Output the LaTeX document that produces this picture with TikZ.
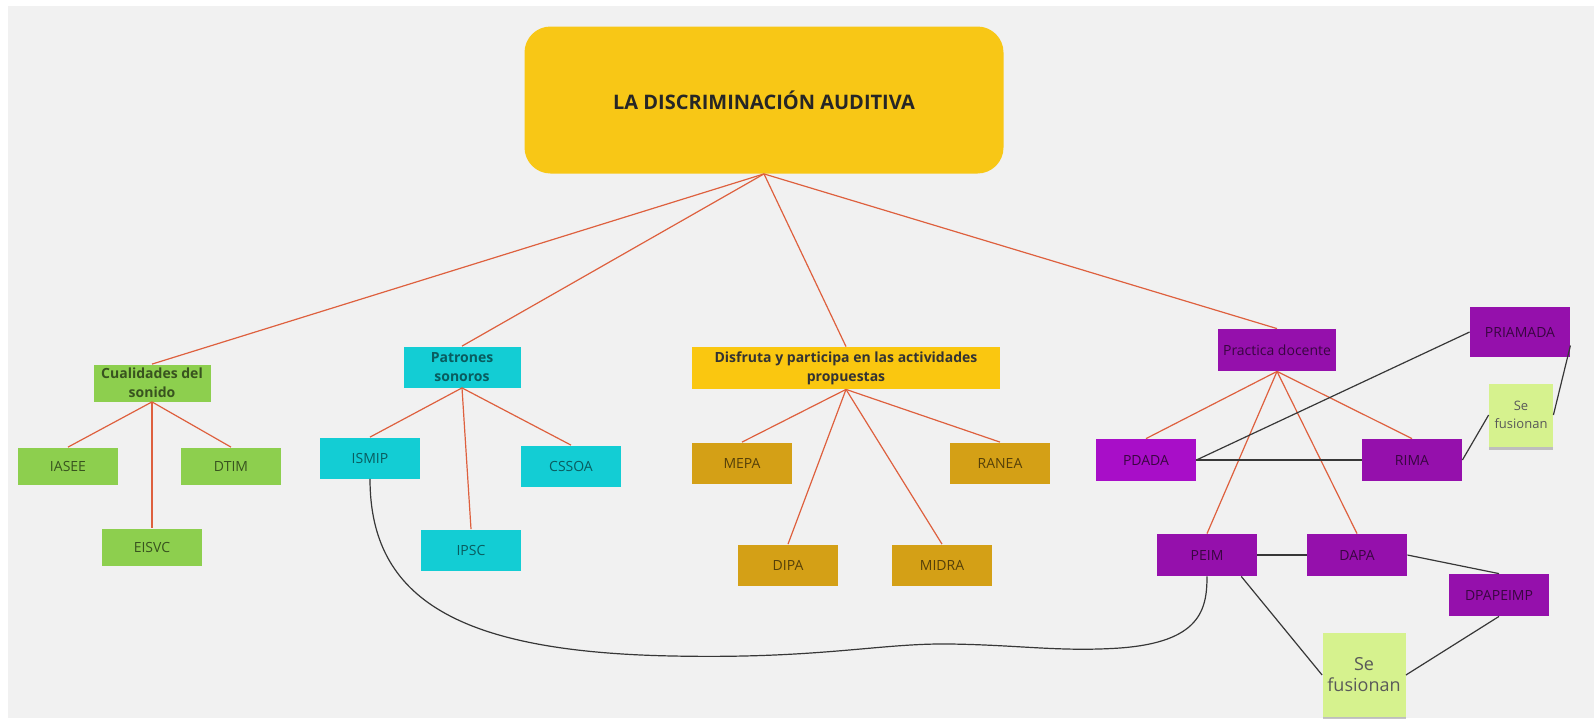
\documentclass[tikz,border=0pt]{standalone}
\usepackage{fontspec}
\setmainfont{Open Sans}
\usetikzlibrary{shadows}
\definecolor{bggray}{RGB}{241,241,241}
\definecolor{mainyellow}{RGB}{248,199,22}
\definecolor{leafgreen}{RGB}{141,207,78}
\definecolor{aqua}{RGB}{19,205,212}
\definecolor{sunyellow}{RGB}{250,199,16}
\definecolor{darkgold}{RGB}{212,160,22}
\definecolor{cmviolet}{RGB}{149,16,172}
\definecolor{cmmagenta}{RGB}{168,14,200}
\definecolor{pastel}{RGB}{214,242,142}
\definecolor{branchred}{RGB}{222,96,62}
\definecolor{linkgray}{RGB}{55,55,55}
\tikzset{
  cmbox/.style={rectangle, inner sep=1pt, align=center, font=\fontsize{7}{9.5}\selectfont},
  headbox/.style={cmbox, font=\fontsize{7}{9.5}\selectfont\bfseries},
  mainbox/.style={rectangle, rounded corners=13pt, fill=mainyellow, minimum width=239.5pt, minimum height=73.5pt, text=black!85, font=\fontsize{10}{12}\selectfont\bfseries},
  greenbox/.style={cmbox, fill=leafgreen, minimum width=50pt, minimum height=18.5pt, text=black!60!leafgreen},
  cyanbox/.style={cmbox, fill=aqua, minimum width=50pt, minimum height=20.5pt, text=black!55!aqua},
  goldbox/.style={cmbox, fill=darkgold, minimum width=50pt, minimum height=20.5pt, text=black!60!darkgold},
  purplebox/.style={cmbox, fill=cmviolet, minimum width=50pt, minimum height=21pt, text=black!62!cmviolet},
  sticky/.style={cmbox, fill=pastel, text=black!65, drop shadow={shadow xshift=0pt, shadow yshift=-1.6pt, opacity=0.45}},
  branchline/.style={draw=branchred, line width=0.6pt},
  crossline/.style={draw=linkgray, line width=0.6pt}
}
\newcommand{\cmbox}[4] {\node at (#1) (#2) [#3] {#4};}
\newcommand{\cmbranch}[2] {\draw [branchline] (#1.south) -- (#2.north);}
\newcommand{\cmlink}[2] {\draw [crossline] (#1) -- (#2);}

\begin{document}
\begin{tikzpicture}[x=0.5pt, y=-0.5pt]
\useasboundingbox (0,0) rectangle (1594,718);
\fill [white] (0,0) rectangle (1594,718);
\fill [bggray] (8,6) rectangle (1594,718);

\cmbox {764,100} {main} {mainbox} {LA DISCRIMINACIÓN AUDITIVA};

% first level
\cmbox {152,383} {cual} {headbox, greenbox, minimum width=58.5pt} {\bfseries Cualidades del\\\bfseries sonido};
\cmbox {462,367} {pat} {headbox, cyanbox, minimum width=58.5pt} {\bfseries Patrones\\\bfseries sonoros};
\cmbox {846,368} {disf} {headbox, fill=sunyellow, minimum width=154pt, minimum height=21pt, text=black!80} {\bfseries Disfruta y participa en las actividades\\\bfseries propuestas};
\cmbox {1277,350} {pract} {purplebox, minimum width=59pt} {Practica docente};

% leaves
\cmbox {68,466} {iasee} {greenbox} {IASEE};
\cmbox {231,466} {dtim} {greenbox} {DTIM};
\cmbox {152,547} {eisvc} {greenbox} {EISVC};

\cmbox {370,458} {ismip} {cyanbox} {ISMIP};
\cmbox {571,466} {cssoa} {cyanbox} {CSSOA};
\cmbox {471,550} {ipsc} {cyanbox} {IPSC};

\cmbox {742,463} {mepa} {goldbox} {MEPA};
\cmbox {1000,463} {ranea} {goldbox} {RANEA};
\cmbox {788,565} {dipa} {goldbox} {DIPA};
\cmbox {942,565} {midra} {goldbox} {MIDRA};

\cmbox {1146,460} {pdada} {purplebox, fill=cmmagenta} {PDADA};
\cmbox {1412,460} {rima} {purplebox} {RIMA};
\cmbox {1520,332} {priamada} {purplebox, minimum height=25pt} {PRIAMADA};
\cmbox {1207,555} {peim} {purplebox} {PEIM};
\cmbox {1357,555} {dapa} {purplebox} {DAPA};
\cmbox {1499,595} {dpapeimp} {purplebox} {DPAPEIMP};

\cmbox {1521,415} {fusA} {sticky, minimum width=32pt, minimum height=31.5pt, font=\fontsize{6.5}{9}\selectfont} {Se\\fusionan};
\cmbox {1364,675} {fusB} {sticky, minimum width=41.5pt, minimum height=42pt, font=\fontsize{9}{10.5}\selectfont} {Se\\fusionan};

\cmbranch{main}{cual};
\cmbranch{main}{pat};
\cmbranch{main}{disf};
\cmbranch{main}{pract};

\cmbranch{cual}{iasee};
\cmbranch{cual}{dtim};
\cmbranch{cual}{eisvc};
\cmbranch{pat}{ismip};
\cmbranch{pat}{cssoa};
\cmbranch{pat}{ipsc};
\cmbranch{disf}{mepa};
\cmbranch{disf}{ranea};
\cmbranch{disf}{dipa};
\cmbranch{disf}{midra};
\cmbranch{pract}{pdada};
\cmbranch{pract}{rima};
\cmbranch{pract}{peim};
\cmbranch{pract}{dapa};

\cmlink{pdada.east}{priamada.west};
\cmlink{pdada.east}{rima.west};
\cmlink{rima.east}{fusA.west};
\cmlink{fusA.east}{priamada.-15};
\cmlink{peim.east}{dapa.west};
\cmlink{dapa.east}{dpapeimp.north};
\cmlink{peim.-32}{fusB.west};
\cmlink{dpapeimp.south}{fusB.east};
\draw [crossline] (ismip.south) .. controls (370,600) and (460,652) .. (673,656)
  .. controls (820,659) and (880,643) .. (950,644)
  .. controls (1020,645) and (1060,652) .. (1120,648)
  .. controls (1200,642) and (1207,610) .. (peim.south);
\end{tikzpicture}
\end{document}
